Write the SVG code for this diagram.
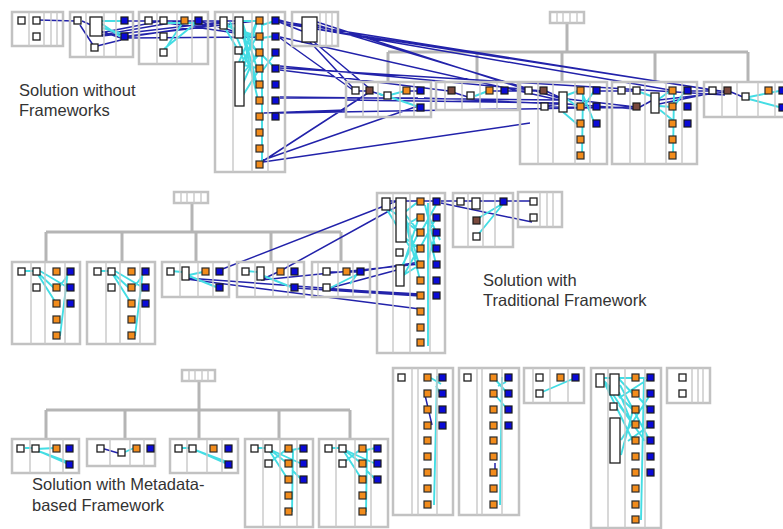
<svg xmlns="http://www.w3.org/2000/svg" width="783" height="529" viewBox="0 0 783 529">
<style>
.p{fill:none;stroke:#c2c2c2;stroke-width:2.5}
.d{fill:none;stroke:#c8c8c8;stroke-width:1.4}
.w{fill:#fff;stroke:#1e1e1e;stroke-width:1.3}
.o{fill:#f28c1c;stroke:#2a2a2a;stroke-width:1.2}
.b{fill:#0a0ad6;stroke:#1a1a1a;stroke-width:1.2}
.r{fill:#7b4a3e;stroke:#1a1a1a;stroke-width:1.2}
.t{fill:none;stroke:#b5b5b5;stroke-width:3}
.c{fill:none;stroke:#2222aa;stroke-width:1.5}
.y{fill:none;stroke:#44dde4;stroke-width:1.9}
text{font-family:"Liberation Sans",Arial,sans-serif;font-size:16.5px;fill:#333}
</style>
<defs><rect id="s" width="7" height="7"/></defs>
<rect width="783" height="529" fill="#fff"/>

<g id="connectors">
<path class="t" d="M567 23V52M388 52H748M388 52V82M477 52V82M562 52V82M655 52V82M748 52V82"/>
<path class="t" d="M192 203V232M46 232H341M46 232V262M122 232V262M196 232V262M271 232V262M341 232V262"/>
<path class="t" d="M199 381V439M46 410H350M46 410V439M125 410V439M279 410V439M350 410V439"/>
<path class="c" d="M38,20L75,21M82,21L91,25M80,25L93,45M97,30L121,38M100,33L161,21M101,35L182,21M102,36L221,22M97,46L121,40M128,37L221,23M128,38L257,37M128,36L257,21M128,21L146,21M152,21L161,21M167,21L181,21M188,21L196,21M202,21L221,21M167,23L256,36M202,22L257,38M227,21L235,21M279,20L302,26M279,22L302,31M279,21L712,90M281,23L670,90M317,22L528,90M317,25L559,98M317,29L727,92M310,42L353,88M314,42L369,88M280,37L559,100M280,38L353,90M280,66L543,91M280,68L725,95M280,70L449,91M280,97L559,100M280,98L418,98M264,113L346,110M280,113L636,107M263,161L368,93M263,162L530,123M263,160L418,106M359,91L367,91M373,92L385,96M410,91L418,91M346,100L560,103M424,98L560,104M452,92L468,97M493,91L502,91M508,91L526,91M532,91L541,91M546,91L559,97M546,106L559,104M567,99L636,107M567,104L636,109M546,107L636,108M600,91L619,91M600,107L636,108M625,91L634,91M640,107L651,101M659,100L727,92M659,104L712,93M688,91L712,91M716,91L725,91M731,92L743,97"/>
<path class="y" d="M102,21L121,21M102,24L121,37M103,28L123,34M164,51L183,22M164,49L197,22M167,23L195,23M227,24L258,52M243,21L257,21M243,24L257,68M243,30L257,84M243,34L257,36M230,22L257,84M239,62L257,21M239,64L257,68M240,66L257,36M240,80L257,22M244,72L261,52M262,21L262,164M262,25L275,21M262,38L275,36M262,55L275,68M263,70L276,52M227,26L257,36M243,28L257,52M240,90L257,52M240,100L260,68M225,28L244,60M244,40L258,100M390,95L405,91M390,97L419,107M377,93L388,97M475,96L488,91M567,95L578,91M567,99L578,107M563,112L577,124M583,91L582,156M583,95L594,122M583,108L594,91M637,91L651,96M659,99L670,91M659,106L672,107M674,91L673,156M660,110L675,122M673,108L685,91M749,97L779,91M749,99L779,107"/>
<path class="c" d="M220,270L397,201M186,278L420,295M186,279L420,309M282,270L398,206M261,280L420,264M295,288L420,296M330,272L343,272M350,272L357,272M362,271L420,262M330,288L397,270M330,289L420,294M263,279L278,272M390,201L417,201M424,201L433,201M441,201L457,201M464,201L472,201M480,201L500,201M441,203L532,222M507,201L530,201"/>
<path class="y" d="M25,271L33,271M37,272L54,288M37,273L56,303M40,271L67,287M60,336L68,271M57,290L68,275M101,271L108,271M112,272L129,288M112,273L131,303M115,271L142,287M135,336L143,271M132,290L143,275M171,271L182,272M189,276L216,287M189,275L203,272M246,271L257,272M264,276L291,287M330,288L358,274M350,284L358,273M386,208L419,262M405,212L419,201M405,214L419,232M405,216L419,264M405,226L419,217M405,238L419,248M401,268L419,232M401,272L419,217M401,280L419,248M420,248L436,218M428,203L428,346M428,230L436,264M428,260L436,232M425,205L436,250M428,215L440,240M388,208L419,232M405,220L420,280M402,276L421,264M421,232L436,205M477,219L502,204M477,236L503,204"/>
<path class="y" d="M25,448L32,448M36,449L55,448M36,450L68,464M38,451L68,462M125,452L134,448M182,448L189,448M193,449L227,464M195,450L227,462M258,448L265,448M269,449L287,463M269,450L287,478M271,450L302,464M293,449L292,512M292,450L302,448M292,470L302,480M269,463L287,449M332,448L339,448M343,449L361,463M343,450L361,478M345,450L376,464M367,449L366,512M366,450L376,448M366,470L376,480M343,463L361,449M437,376L434,505M431,378L441,384M436,386L441,395M502,377L500,505M494,378L508,394M498,386L506,382M496,396L508,410M540,393L575,378M604,378L633,378M604,381L633,410M604,382L633,441M619,379L633,394M619,392L633,426M619,398L650,378M619,405L645,441M621,440L650,395M621,455L633,410M644,377L641,520M639,398L650,410M628,441L650,425M613,378L646,378M606,384L634,426M620,385L650,441"/>
<path class="c" d="M101,448L118,453M425,395L432,425M495,463L495,471"/>
</g>

<g id="s1-root"><rect class="p" x="550" y="12" width="34" height="11"/><path class="d" d="M557 12V23M563 12V23M570 12V23M577 12V23"/></g>
<g id="s1-a"><rect class="p" x="12" y="12" width="51" height="34"/><path class="d" d="M29 12V46M44 12V46M51 12V46M57 12V46"/>
<use href="#s" class="w" x="18" y="17"/><use href="#s" class="w" x="33" y="17"/><use href="#s" class="w" x="33" y="33"/></g>
<g id="s1-b"><rect class="p" x="70" y="12" width="63" height="45"/><path class="d" d="M86 12V57M104 12V57M116 12V57"/>
<use href="#s" class="w" x="74" y="17"/><rect class="w" x="90" y="17" width="12" height="19"/><use href="#s" class="b" x="121" y="17"/><use href="#s" class="b" x="121" y="33"/><use href="#s" class="w" x="91" y="44"/></g>
<g id="s1-c"><rect class="p" x="139" y="12" width="69" height="52"/><path class="d" d="M157 12V64M177 12V64M192 12V64"/>
<use href="#s" class="w" x="145" y="17"/><use href="#s" class="w" x="160" y="17"/><use href="#s" class="o" x="181" y="17"/><use href="#s" class="b" x="195" y="17"/><use href="#s" class="w" x="160" y="33"/><use href="#s" class="w" x="160" y="49"/></g>
<g id="s1-d"><rect class="p" x="215" y="12" width="70" height="160"/><path class="d" d="M233 12V172M252 12V172M268 12V172"/>
<rect class="w" x="220" y="17" width="7" height="12"/><rect class="w" x="235" y="17" width="8" height="21"/><use href="#s" class="w" x="235" y="47"/><rect class="w" x="235" y="62" width="9" height="44"/>
<use href="#s" class="o" x="256" y="17"/><use href="#s" class="o" x="256" y="33"/><use href="#s" class="o" x="256" y="49"/><use href="#s" class="o" x="256" y="65"/><use href="#s" class="o" x="256" y="81"/><use href="#s" class="o" x="256" y="97"/><use href="#s" class="o" x="256" y="113"/><use href="#s" class="o" x="256" y="129"/><use href="#s" class="o" x="256" y="145"/><use href="#s" class="o" x="256" y="161"/>
<use href="#s" class="b" x="272" y="17"/><use href="#s" class="b" x="272" y="33"/><use href="#s" class="b" x="272" y="49"/><use href="#s" class="b" x="272" y="65"/><use href="#s" class="b" x="272" y="81"/><use href="#s" class="b" x="272" y="97"/><use href="#s" class="b" x="272" y="113"/></g>
<g id="s1-e"><rect class="p" x="292" y="12" width="46" height="34"/><path class="d" d="M320 12V46M326 12V46M332 12V46"/><rect class="w" x="302" y="17" width="15" height="25"/></g>
<g id="s1-f"><rect class="p" x="346" y="82" width="85" height="35"/><path class="d" d="M363 82V117M378 82V117M400 82V117M414 82V117"/>
<use href="#s" class="w" x="352" y="87"/><use href="#s" class="r" x="366" y="87"/><use href="#s" class="w" x="384" y="92"/><use href="#s" class="o" x="403" y="87"/><use href="#s" class="b" x="417" y="87"/><use href="#s" class="b" x="417" y="104"/></g>
<g id="s1-g"><rect class="p" x="436" y="82" width="82" height="28"/><path class="d" d="M445 82V110M462 82V110M480 82V110M497 82V110"/>
<use href="#s" class="r" x="448" y="87"/><use href="#s" class="w" x="467" y="92"/><use href="#s" class="o" x="486" y="87"/><use href="#s" class="b" x="501" y="87"/></g>
<g id="s1-h"><rect class="p" x="520" y="82" width="87" height="82"/><path class="d" d="M538 82V164M553 82V164M575 82V164M590 82V164"/>
<use href="#s" class="w" x="525" y="87"/><use href="#s" class="r" x="540" y="87"/><use href="#s" class="w" x="541" y="103"/><rect class="w" x="559" y="92" width="8" height="20"/>
<use href="#s" class="o" x="577" y="87"/><use href="#s" class="b" x="593" y="87"/><use href="#s" class="o" x="577" y="103"/><use href="#s" class="b" x="593" y="103"/><use href="#s" class="o" x="577" y="120"/><use href="#s" class="b" x="593" y="120"/><use href="#s" class="o" x="577" y="136"/><use href="#s" class="o" x="577" y="152"/></g>
<g id="s1-i"><rect class="p" x="612" y="82" width="85" height="82"/><path class="d" d="M630 82V164M645 82V164M666 82V164M682 82V164"/>
<use href="#s" class="w" x="618" y="87"/><use href="#s" class="w" x="633" y="87"/><use href="#s" class="r" x="633" y="103"/><rect class="w" x="651" y="93" width="8" height="20"/>
<use href="#s" class="o" x="669" y="87"/><use href="#s" class="b" x="684" y="87"/><use href="#s" class="o" x="669" y="103"/><use href="#s" class="b" x="684" y="103"/><use href="#s" class="o" x="669" y="120"/><use href="#s" class="b" x="684" y="120"/><use href="#s" class="o" x="669" y="136"/><use href="#s" class="o" x="669" y="152"/></g>
<g id="s1-j"><rect class="p" x="704" y="82" width="90" height="35"/><path class="d" d="M722 82V117M737 82V117M758 82V117M775 82V117"/>
<use href="#s" class="w" x="709" y="87"/><use href="#s" class="r" x="724" y="87"/><use href="#s" class="w" x="742" y="93"/><use href="#s" class="o" x="765" y="87"/><use href="#s" class="b" x="779" y="87"/><use href="#s" class="b" x="779" y="104"/></g>

<g id="s2-root"><rect class="p" x="174" y="192" width="34" height="11"/><path class="d" d="M181 192V203M187 192V203M194 192V203M201 192V203"/></g>
<g id="s2-a"><rect class="p" x="12" y="262" width="68" height="82"/><path class="d" d="M31 262V344M45 262V344M65 262V344"/>
<use href="#s" class="w" x="18" y="268"/><use href="#s" class="w" x="33" y="268"/><use href="#s" class="w" x="33" y="284"/>
<use href="#s" class="o" x="53" y="268"/><use href="#s" class="b" x="67" y="268"/><use href="#s" class="o" x="53" y="284"/><use href="#s" class="b" x="67" y="284"/><use href="#s" class="o" x="53" y="300"/><use href="#s" class="b" x="67" y="300"/><use href="#s" class="o" x="53" y="316"/><use href="#s" class="o" x="53" y="332"/></g>
<g id="s2-b"><rect class="p" x="87" y="262" width="68" height="82"/><path class="d" d="M106 262V344M120 262V344M140 262V344"/>
<use href="#s" class="w" x="94" y="268"/><use href="#s" class="w" x="108" y="268"/><use href="#s" class="w" x="108" y="284"/>
<use href="#s" class="o" x="128" y="268"/><use href="#s" class="b" x="142" y="268"/><use href="#s" class="o" x="128" y="284"/><use href="#s" class="b" x="142" y="284"/><use href="#s" class="o" x="128" y="300"/><use href="#s" class="b" x="142" y="300"/><use href="#s" class="o" x="128" y="316"/><use href="#s" class="o" x="128" y="332"/></g>
<g id="s2-c"><rect class="p" x="162" y="262" width="67" height="35"/><path class="d" d="M180 262V297M198 262V297M213 262V297"/>
<use href="#s" class="w" x="167" y="268"/><rect class="w" x="182" y="267" width="7" height="13"/><use href="#s" class="o" x="202" y="268"/><use href="#s" class="b" x="216" y="268"/><use href="#s" class="b" x="216" y="284"/></g>
<g id="s2-d"><rect class="p" x="237" y="262" width="67" height="35"/><path class="d" d="M255 262V297M273 262V297M288 262V297"/>
<use href="#s" class="w" x="242" y="268"/><rect class="w" x="257" y="267" width="7" height="13"/><use href="#s" class="o" x="277" y="268"/><use href="#s" class="b" x="291" y="268"/><use href="#s" class="b" x="291" y="284"/></g>
<g id="s2-e"><rect class="p" x="312" y="262" width="58" height="35"/><path class="d" d="M318 262V297M338 262V297M353 262V297"/>
<use href="#s" class="w" x="323" y="268"/><use href="#s" class="w" x="323" y="284"/><use href="#s" class="o" x="343" y="268"/><use href="#s" class="b" x="357" y="268"/></g>
<g id="s2-f"><rect class="p" x="377" y="193" width="68" height="160"/><path class="d" d="M393 193V353M410 193V353M430 193V353"/>
<rect class="w" x="382" y="198" width="8" height="12"/><rect class="w" x="396" y="198" width="10" height="44"/><use href="#s" class="w" x="396" y="249"/><rect class="w" x="396" y="265" width="8" height="21"/>
<use href="#s" class="o" x="417" y="198"/><use href="#s" class="o" x="417" y="214"/><use href="#s" class="o" x="417" y="229"/><use href="#s" class="o" x="417" y="245"/><use href="#s" class="o" x="417" y="261"/><use href="#s" class="o" x="417" y="277"/><use href="#s" class="o" x="417" y="292"/><use href="#s" class="o" x="417" y="308"/><use href="#s" class="o" x="417" y="324"/><use href="#s" class="o" x="417" y="339"/>
<use href="#s" class="b" x="433" y="198"/><use href="#s" class="b" x="433" y="214"/><use href="#s" class="b" x="433" y="229"/><use href="#s" class="b" x="433" y="245"/><use href="#s" class="b" x="433" y="261"/><use href="#s" class="b" x="433" y="277"/><use href="#s" class="b" x="433" y="292"/></g>
<g id="s2-g"><rect class="p" x="453" y="193" width="60" height="54"/><path class="d" d="M468 193V247M483 193V247M495 193V247"/>
<use href="#s" class="w" x="457" y="198"/><rect class="w" x="472" y="198" width="8" height="11"/><use href="#s" class="b" x="500" y="198"/><use href="#s" class="r" x="473" y="217"/><use href="#s" class="w" x="473" y="233"/></g>
<g id="s2-h"><rect class="p" x="518" y="192" width="44" height="35"/><path class="d" d="M540 192V227M547 192V227M553 192V227"/>
<use href="#s" class="w" x="530" y="198"/><use href="#s" class="w" x="530" y="214"/></g>

<g id="s3-root"><rect class="p" x="182" y="370" width="33" height="11"/><path class="d" d="M189 370V381M195 370V381M202 370V381M208 370V381"/></g>
<g id="s3-a"><rect class="p" x="12" y="439" width="67" height="34"/><path class="d" d="M30 439V473M50 439V473M63 439V473"/>
<use href="#s" class="w" x="17" y="445"/><use href="#s" class="w" x="32" y="445"/><use href="#s" class="o" x="53" y="445"/><use href="#s" class="b" x="66" y="445"/><use href="#s" class="b" x="66" y="461"/></g>
<g id="s3-b"><rect class="p" x="87" y="439" width="68" height="27"/><path class="d" d="M110 439V466M130 439V466M144 439V466"/>
<use href="#s" class="w" x="97" y="445"/><use href="#s" class="w" x="118" y="449"/><use href="#s" class="o" x="133" y="445"/><use href="#s" class="b" x="147" y="445"/></g>
<g id="s3-c"><rect class="p" x="170" y="439" width="68" height="34"/><path class="d" d="M187 439V473M207 439V473M222 439V473"/>
<use href="#s" class="w" x="175" y="445"/><use href="#s" class="w" x="189" y="445"/><use href="#s" class="o" x="210" y="445"/><use href="#s" class="b" x="225" y="445"/><use href="#s" class="b" x="225" y="461"/></g>
<g id="s3-d"><rect class="p" x="245" y="439" width="68" height="88"/><path class="d" d="M263 439V527M280 439V527M297 439V527"/>
<use href="#s" class="w" x="251" y="445"/><use href="#s" class="w" x="265" y="445"/><use href="#s" class="w" x="265" y="460"/>
<use href="#s" class="o" x="285" y="445"/><use href="#s" class="b" x="300" y="445"/><use href="#s" class="o" x="285" y="460"/><use href="#s" class="b" x="300" y="460"/><use href="#s" class="o" x="285" y="476"/><use href="#s" class="b" x="300" y="476"/><use href="#s" class="o" x="285" y="492"/><use href="#s" class="o" x="285" y="508"/></g>
<g id="s3-e"><rect class="p" x="319" y="439" width="69" height="88"/><path class="d" d="M336 439V527M355 439V527M371 439V527"/>
<use href="#s" class="w" x="325" y="445"/><use href="#s" class="w" x="339" y="445"/><use href="#s" class="w" x="339" y="460"/>
<use href="#s" class="o" x="359" y="445"/><use href="#s" class="b" x="374" y="445"/><use href="#s" class="o" x="359" y="460"/><use href="#s" class="b" x="374" y="460"/><use href="#s" class="o" x="359" y="476"/><use href="#s" class="b" x="374" y="476"/><use href="#s" class="o" x="359" y="492"/><use href="#s" class="o" x="359" y="508"/></g>
<g id="s3-f"><rect class="p" x="393" y="368" width="60" height="147"/><path class="d" d="M412 368V515M418 368V515M437 368V515"/>
<use href="#s" class="w" x="398" y="374"/>
<use href="#s" class="o" x="424" y="374"/><use href="#s" class="o" x="424" y="390"/><use href="#s" class="o" x="424" y="406"/><use href="#s" class="o" x="424" y="422"/><use href="#s" class="o" x="424" y="437"/><use href="#s" class="o" x="424" y="453"/><use href="#s" class="o" x="424" y="469"/><use href="#s" class="o" x="424" y="485"/><use href="#s" class="o" x="424" y="501"/>
<use href="#s" class="b" x="439" y="374"/><use href="#s" class="b" x="439" y="390"/><use href="#s" class="b" x="439" y="406"/><use href="#s" class="b" x="439" y="422"/></g>
<g id="s3-g"><rect class="p" x="459" y="368" width="60" height="147"/><path class="d" d="M477 368V515M482 368V515M502 368V515"/>
<use href="#s" class="w" x="464" y="374"/>
<use href="#s" class="o" x="490" y="374"/><use href="#s" class="o" x="490" y="390"/><use href="#s" class="o" x="490" y="406"/><use href="#s" class="o" x="490" y="422"/><use href="#s" class="o" x="490" y="437"/><use href="#s" class="o" x="490" y="453"/><use href="#s" class="o" x="490" y="469"/><use href="#s" class="o" x="490" y="485"/><use href="#s" class="o" x="490" y="501"/>
<use href="#s" class="b" x="505" y="374"/><use href="#s" class="b" x="505" y="390"/><use href="#s" class="b" x="505" y="406"/><use href="#s" class="b" x="505" y="422"/></g>
<g id="s3-h"><rect class="p" x="524" y="368" width="60" height="35"/><path class="d" d="M533 368V403M550 368V403M568 368V403"/>
<use href="#s" class="w" x="536" y="374"/><use href="#s" class="w" x="536" y="390"/><use href="#s" class="o" x="557" y="374"/><use href="#s" class="b" x="572" y="374"/></g>
<g id="s3-i"><rect class="p" x="591" y="368" width="70" height="160"/><path class="d" d="M608 368V528M625 368V528M645 368V528"/>
<rect class="w" x="596" y="374" width="8" height="13"/><rect class="w" x="610" y="374" width="9" height="21"/><use href="#s" class="w" x="610" y="403"/><rect class="w" x="610" y="418" width="10" height="45"/>
<use href="#s" class="o" x="632" y="374"/><use href="#s" class="o" x="632" y="390"/><use href="#s" class="o" x="632" y="406"/><use href="#s" class="o" x="632" y="421"/><use href="#s" class="o" x="632" y="437"/><use href="#s" class="o" x="632" y="453"/><use href="#s" class="o" x="632" y="469"/><use href="#s" class="o" x="632" y="485"/><use href="#s" class="o" x="632" y="501"/><use href="#s" class="o" x="632" y="516"/>
<use href="#s" class="b" x="647" y="374"/><use href="#s" class="b" x="647" y="390"/><use href="#s" class="b" x="647" y="406"/><use href="#s" class="b" x="647" y="421"/><use href="#s" class="b" x="647" y="437"/><use href="#s" class="b" x="647" y="453"/><use href="#s" class="b" x="647" y="469"/></g>
<g id="s3-j"><rect class="p" x="667" y="368" width="43" height="35"/><path class="d" d="M692 368V403M698 368V403M703 368V403"/>
<use href="#s" class="w" x="679" y="374"/><use href="#s" class="w" x="679" y="390"/></g>

<g id="label-1"><text x="19" y="96">Solution without</text><text x="19" y="116">Frameworks</text></g>
<g id="label-2"><text x="483" y="286">Solution with</text><text x="483" y="306">Traditional Framework</text></g>
<g id="label-3"><text x="32" y="490">Solution with Metadata-</text><text x="32" y="511">based Framework</text></g>
</svg>
